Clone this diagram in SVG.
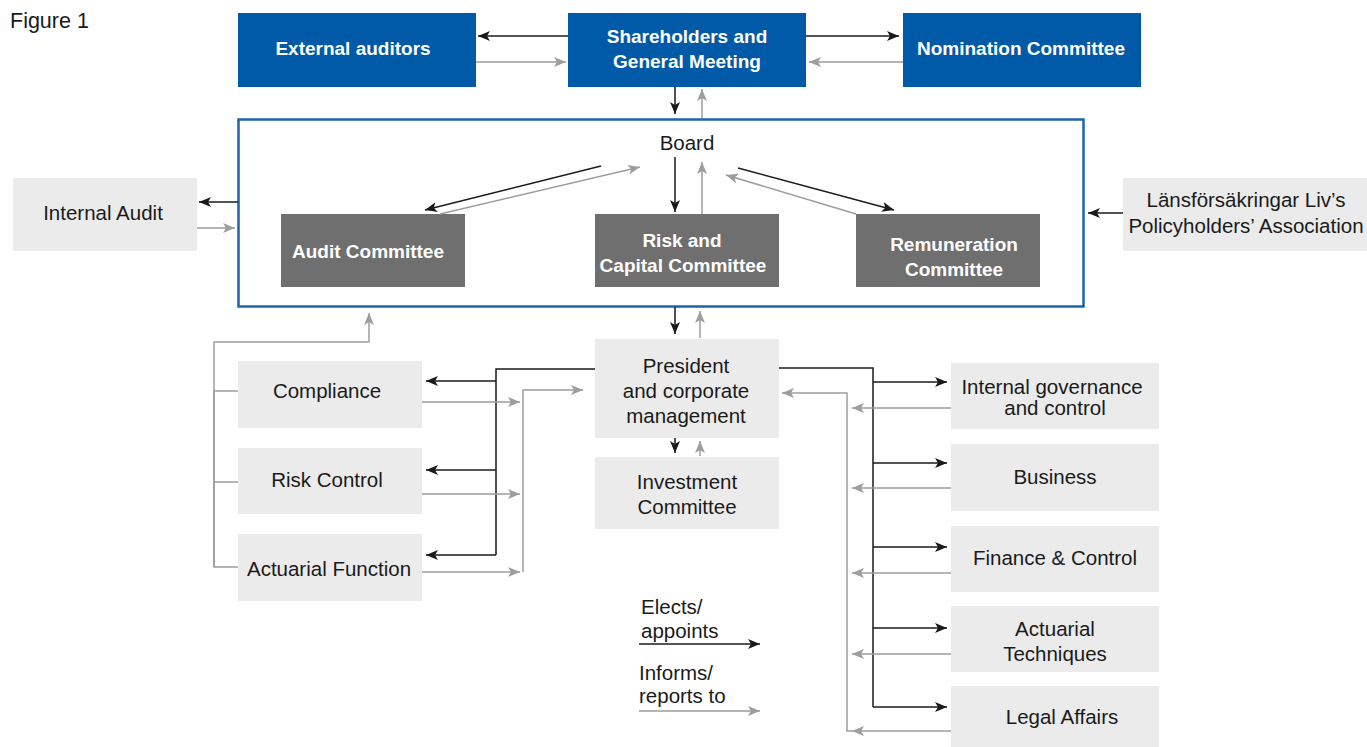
<svg xmlns="http://www.w3.org/2000/svg" width="1367" height="747" viewBox="0 0 1367 747">
<style>
.blue{fill:#005aa8}
.dark{fill:#706f6f}
.light{fill:#ebebeb}
.tb{font-family:"Liberation Sans",Arial,sans-serif;font-weight:bold;font-size:19px;fill:#ffffff;text-anchor:middle}
.tr{font-family:"Liberation Sans",Arial,sans-serif;font-size:20.5px;fill:#1a1a1a;text-anchor:middle}
.ts{font-family:"Liberation Sans",Arial,sans-serif;font-size:20.5px;fill:#1a1a1a}
.k{stroke:#1a1a1a;stroke-width:1.5;fill:none;marker-end:url(#ab)}
.kn{stroke:#1a1a1a;stroke-width:1.5;fill:none}
.g{stroke:#9d9d9d;stroke-width:1.5;fill:none;marker-end:url(#ag)}
.gn{stroke:#9d9d9d;stroke-width:1.5;fill:none}
</style>
<defs>
<marker id="ab" viewBox="0 0 12 10" refX="12" refY="5" markerWidth="12" markerHeight="10" markerUnits="userSpaceOnUse" orient="auto"><path d="M0,0 L12,5 L0,10 L3,5 z" fill="#1a1a1a"/></marker>
<marker id="ag" viewBox="0 0 12 10" refX="12" refY="5" markerWidth="12" markerHeight="10" markerUnits="userSpaceOnUse" orient="auto"><path d="M0,0 L12,5 L0,10 L3,5 z" fill="#9d9d9d"/></marker>
</defs>
<rect width="1367" height="747" fill="#ffffff"/>
<text x="10" y="28" class="ts" style="font-size:21.5px">Figure 1</text>

<g id="board">
<rect x="238.5" y="119.5" width="845" height="187" fill="none" stroke="#1a63ad" stroke-width="2.5"/>
<text x="687" y="150" class="tr">Board</text>
</g>
<g id="external-auditors"><rect x="238" y="13" width="238" height="74" class="blue"/><text x="353" y="55" class="tb">External auditors</text></g>
<g id="shareholders"><rect x="568" y="13" width="238" height="74" class="blue"/><text x="687" y="43" class="tb">Shareholders and</text><text x="687" y="68" class="tb">General Meeting</text></g>
<g id="nomination"><rect x="903" y="13" width="238" height="74" class="blue"/><text x="1021" y="55" class="tb">Nomination Committee</text></g>
<g id="audit-committee"><rect x="281" y="214" width="184" height="73" class="dark"/><text x="368" y="258" class="tb">Audit Committee</text></g>
<g id="risk-capital"><rect x="595" y="214" width="184" height="73" class="dark"/><text x="682" y="247" class="tb">Risk and</text><text x="683" y="272" class="tb">Capital Committee</text></g>
<g id="remuneration"><rect x="856" y="214" width="184" height="73" class="dark"/><text x="954" y="251" class="tb">Remuneration</text><text x="954" y="276" class="tb">Committee</text></g>
<g id="internal-audit"><rect x="13" y="178" width="184" height="73" class="light"/><text x="103" y="220" class="tr">Internal Audit</text></g>
<g id="policyholders"><rect x="1123" y="178" width="244" height="73" class="light"/><text x="1246" y="207" class="tr">Länsförsäkringar Liv’s</text><text x="1246" y="233" class="tr">Policyholders’ Association</text></g>
<g id="president"><rect x="595" y="339" width="184" height="99" class="light"/><text x="686" y="373" class="tr">President</text><text x="686" y="398" class="tr">and corporate</text><text x="686" y="423" class="tr">management</text></g>
<g id="investment"><rect x="595" y="457" width="184" height="72" class="light"/><text x="687" y="489" class="tr">Investment</text><text x="687" y="514" class="tr">Committee</text></g>
<g id="compliance"><rect x="238" y="361" width="184" height="67" class="light"/><text x="327" y="398" class="tr">Compliance</text></g>
<g id="risk-control"><rect x="238" y="448" width="184" height="66" class="light"/><text x="327" y="487" class="tr">Risk Control</text></g>
<g id="actuarial-function"><rect x="238" y="534" width="184" height="67" class="light"/><text x="329" y="576" class="tr">Actuarial Function</text></g>
<g id="internal-governance"><rect x="951" y="363" width="208" height="66" class="light"/><text x="1052" y="394" class="tr">Internal governance</text><text x="1055" y="415" class="tr">and control</text></g>
<g id="business"><rect x="951" y="444" width="208" height="67" class="light"/><text x="1055" y="484" class="tr">Business</text></g>
<g id="finance"><rect x="951" y="526" width="208" height="66" class="light"/><text x="1055" y="565" class="tr">Finance &amp; Control</text></g>
<g id="actuarial-techniques"><rect x="951" y="606" width="208" height="66" class="light"/><text x="1055" y="636" class="tr">Actuarial</text><text x="1055" y="661" class="tr">Techniques</text></g>
<g id="legal"><rect x="951" y="686" width="208" height="61" class="light"/><text x="1062" y="724" class="tr">Legal Affairs</text></g>

<g id="legend">
<text x="641" y="614" class="ts">Elects/</text>
<text x="641" y="638" class="ts">appoints</text>
<text x="639" y="680" class="ts">Informs/</text>
<text x="639" y="703" class="ts">reports to</text>
</g>

<g id="connectors">
<path class="k" d="M568,36 H478"/>
<path class="g" d="M476,62 H566"/>
<path class="k" d="M806,36 H899"/>
<path class="g" d="M903,62 H809"/>
<path class="k" d="M675,87 V114"/>
<path class="g" d="M702,118 V89"/>
<path class="k" d="M238,202 H199"/>
<path class="g" d="M197,228 H235"/>
<path class="k" d="M1123,213 H1088"/>
<path class="k" d="M601,166 L425,210"/>
<path class="g" d="M440,214 L640,167"/>
<path class="k" d="M675,157 V212"/>
<path class="g" d="M702,214 V162"/>
<path class="k" d="M738,168 L894,210"/>
<path class="g" d="M856,214 L726,175"/>
<path class="k" d="M675,307 V334"/>
<path class="g" d="M700,338 V311"/>
<path class="k" d="M675,438 V453"/>
<path class="g" d="M700,456 V441"/>
<path class="gn" d="M238,391 H214 V567 H238 M214,482 H238"/>
<path class="g" d="M214,567 V342 H369 V313"/>
<path class="kn" d="M595,369 H496 V555"/>
<path class="k" d="M496,381 H426"/>
<path class="k" d="M496,470 H426"/>
<path class="k" d="M496,555 H426"/>
<path class="g" d="M422,402 H520"/>
<path class="g" d="M422,494 H520"/>
<path class="g" d="M422,572 H520"/>
<path class="g" d="M523,572 V390 H583"/>
<path class="kn" d="M779,368 H873 V707"/>
<path class="k" d="M873,382 H947"/>
<path class="k" d="M873,463 H947"/>
<path class="k" d="M873,547 H947"/>
<path class="k" d="M873,628 H947"/>
<path class="k" d="M873,707 H947"/>
<path class="g" d="M951,408 H852"/>
<path class="g" d="M951,488 H852"/>
<path class="g" d="M951,573 H852"/>
<path class="g" d="M951,654 H852"/>
<path class="g" d="M951,731 H852"/>
<path class="g" d="M852,731 H847 V393 H782"/>
<path class="k" d="M639,644 H760"/>
<path class="g" d="M639,711 H760"/>
</g>
</svg>
